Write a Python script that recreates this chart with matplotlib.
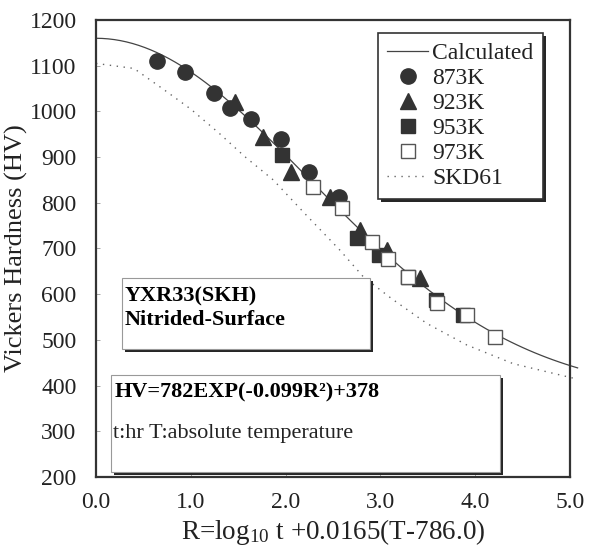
import numpy as np
import matplotlib.pyplot as plt
from matplotlib.patches import Rectangle
from matplotlib.transforms import IdentityTransform

plt.rcParams['font.family'] = ['Liberation Serif', 'DejaVu Serif']
plt.rcParams['mathtext.fontset'] = 'custom'
plt.rcParams['mathtext.rm'] = 'Liberation Serif'

# fitted master curve  HV = A*exp(-B*R^2) + C
hv_a = 782
hv_b = 0.099
hv_c = 378
r_calc = np.linspace(0.0, 5.08, 80)
hv_calc = hv_a * np.exp(-hv_b * r_calc ** 2) + hv_c

# SKD61 curve
r_skd = [0.0, 0.4, 0.7, 1.0, 1.3, 1.57, 1.87, 2.2, 2.57, 2.82, 3.12, 3.49, 3.91, 4.4, 5.0, 5.08]
hv_skd = [1105, 1094, 1050, 1005, 952, 901, 850, 777, 697, 638, 590, 536, 489, 448, 418, 414]

# measured hardness, one set per nitriding temperature
r_873 = [0.64, 0.94, 1.24, 1.41, 1.64, 1.95, 2.25, 2.56]
hv_873 = [1111, 1086, 1040, 1007, 983, 940, 868, 813]
r_923 = [1.47, 1.76, 2.06, 2.47, 2.78, 3.07, 3.42]
hv_923 = [1021, 945, 867, 813, 740, 697, 635]
r_953 = [1.96, 2.75, 2.98, 3.29, 3.59, 3.87]
hv_953 = [905, 722, 686, 638, 587, 554]
r_973 = [2.29, 2.59, 2.91, 3.08, 3.29, 3.60, 3.91, 4.21]
hv_973 = [834, 788, 715, 676, 638, 581, 554, 506]

x_ticks = [0, 1, 2, 3, 4, 5]
y_ticks = list(range(200, 1201, 100))

fig = plt.figure(figsize=(5.98, 5.5), dpi=100)
ax = fig.add_axes([96 / 598, 1 - 477 / 550, 474 / 598, 457 / 550])

dark = '#333333'
shade = '#262626'

ax.plot(r_calc, hv_calc, color='#444444', lw=0.9, zorder=2, clip_on=False, label='Calculated')
ax.plot(r_873, hv_873, 'o', ms=11, color=dark, mec=dark, zorder=5, label='873K')
ax.plot(r_923, hv_923, '^', ms=11, color=dark, mec=dark, zorder=4, label='923K')
ax.plot(r_953, hv_953, 's', ms=10, color=dark, mec=dark, zorder=6, label='953K')
ax.plot(r_973, hv_973, 's', ms=10, color='white', mec='#555555', mew=1.0, zorder=7, label='973K')
ax.plot(r_skd, hv_skd, color='#666666', lw=1.0, ls=(0, (1, 4)), zorder=2, clip_on=False, label='SKD61')

ax.set_xlim(0, 5)
ax.set_ylim(200, 1200)
ax.set_xticks(x_ticks)
ax.set_xticklabels([f'{v:.1f}' for v in x_ticks])
ax.set_yticks(y_ticks)
ax.tick_params(axis='both', direction='in', length=3, width=0.6, colors='#999999',
               labelcolor='#222222', labelsize=17)
ax.tick_params(axis='y', pad=14)
ax.tick_params(axis='x', pad=11)
for s in ax.spines.values():
    s.set_color(dark)
    s.set_linewidth(1.6)

ax.set_ylabel('Vickers Hardness (HV)', fontsize=19, color='#222222', labelpad=1)
ax.set_xlabel(r'R=$\mathregular{log_{10}}$ t +0.0165(T-786.0)', fontsize=19.5,
              color='#222222', labelpad=3)

leg = ax.legend(loc='upper left', bbox_to_anchor=(378 / 598, 1 - 33 / 550),
                bbox_transform=fig.transFigure, borderaxespad=0, fontsize=17,
                frameon=True, fancybox=False, framealpha=1, edgecolor=dark,
                borderpad=0.4, labelspacing=0.15, handlelength=1.7, handletextpad=0.2)
leg.set_zorder(10)
leg.get_frame().set_linewidth(1.2)
for t in leg.get_texts():
    t.set_color('#222222')

# drop shadow under the legend frame, in display pixels
fig.canvas.draw()
lb = leg.get_window_extent()
ax.add_patch(Rectangle((lb.x0 + 3, lb.y0 - 3), lb.width, lb.height, transform=IdentityTransform(),
                       facecolor=shade, edgecolor='none', zorder=9, clip_on=False))


def shadow_box(x0, y0, x1, y1):
    # white panel with a dark drop shadow toward the lower right
    dx, dy = 3 / 474, 3 / 457
    ax.add_patch(Rectangle((x0 + dx, y0 - dy), x1 - x0, y1 - y0, transform=ax.transAxes,
                           facecolor=shade, edgecolor='none', zorder=3, clip_on=False))
    ax.add_patch(Rectangle((x0, y0), x1 - x0, y1 - y0, transform=ax.transAxes,
                           facecolor='white', edgecolor='#999999', lw=0.8, zorder=3.1))


shadow_box(0.055, 0.280, 0.578, 0.435)
ax.text(0.061, 0.383, 'YXR33(SKH)', transform=ax.transAxes, fontsize=16,
        fontweight='bold', va='baseline', zorder=8)
ax.text(0.061, 0.333, 'Nitrided-Surface', transform=ax.transAxes, fontsize=16,
        fontweight='bold', va='baseline', zorder=8)

shadow_box(0.032, 0.011, 0.852, 0.223)
ax.text(0.040, 0.173, f'HV={hv_a}EXP(-{hv_b}R\u00b2)+{hv_c}', transform=ax.transAxes,
        fontsize=16, fontweight='bold', va='baseline', zorder=8)
ax.text(0.036, 0.085, 't:hr T:absolute temperature', transform=ax.transAxes,
        fontsize=16, va='baseline', color='#222222', zorder=8)

fig.savefig('out.png', dpi=100)
